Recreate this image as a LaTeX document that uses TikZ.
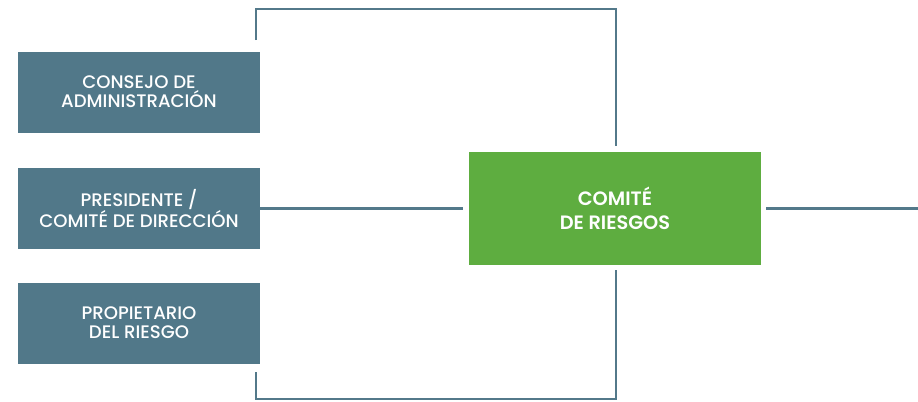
\documentclass[tikz,border=0pt]{standalone}
\usepackage{fontspec}
\setmainfont{Poppins}[BoldFont={Poppins SemiBold}]
\newfontfamily\popmed{Poppins Medium}
\usetikzlibrary{calc}
\definecolor{boxblue}{HTML}{517889}
\definecolor{lineblue}{HTML}{53798A}
\definecolor{boxgreen}{HTML}{5EAD40}
\begin{document}
\begin{tikzpicture}[x=0.75pt,y=-0.75pt,
  bluebox/.style={fill=boxblue,text=white,minimum width=181.5pt,minimum height=60.75pt,inner sep=0pt,align=center,font=\popmed\fontsize{13.6pt}{14pt}\selectfont},
  greenbox/.style={fill=boxgreen,text=white,minimum width=219pt,minimum height=84.75pt,inner sep=0pt,align=center,font=\fontsize{14.5pt}{18pt}\selectfont\bfseries},
  link/.style={draw=lineblue,line width=2.2pt}]
\useasboundingbox (0,0) rectangle (918,401);
\node[bluebox] (b1) at (139,92) {CONSEJO DE\\ADMINISTRACIÓN};
\node[bluebox] (b2) at (139,208.5) {PRESIDENTE /\\COMITÉ DE DIRECCIÓN};
\node[bluebox] (b3) at (139,323) {PROPIETARIO\\DEL RIESGO};
\node[greenbox] (g) at (615,208.5) {COMITÉ\\DE RIESGOS};
\coordinate (t1) at (256,40);
\coordinate (t2) at (256,9);
\coordinate (t3) at (616,9);
\coordinate (t4) at ($(g.north)+(1,-6)$);
\draw[link] (t1) -- (t2) -- (t3) -- (t4);
\coordinate (m1) at ($(g.west)+(-6,0)$);
\draw[link] (b2.east) -- (m1);
\coordinate (r1) at ($(g.east)+(5,0)$);
\coordinate (r2) at (918,208.5);
\draw[link] (r1) -- (r2);
\coordinate (s1) at ($(g.south)+(1,5)$);
\coordinate (s2) at (616,399);
\coordinate (s3) at (256,399);
\coordinate (s4) at (256,372);
\draw[link] (s1) -- (s2) -- (s3) -- (s4);
\end{tikzpicture}
\end{document}
